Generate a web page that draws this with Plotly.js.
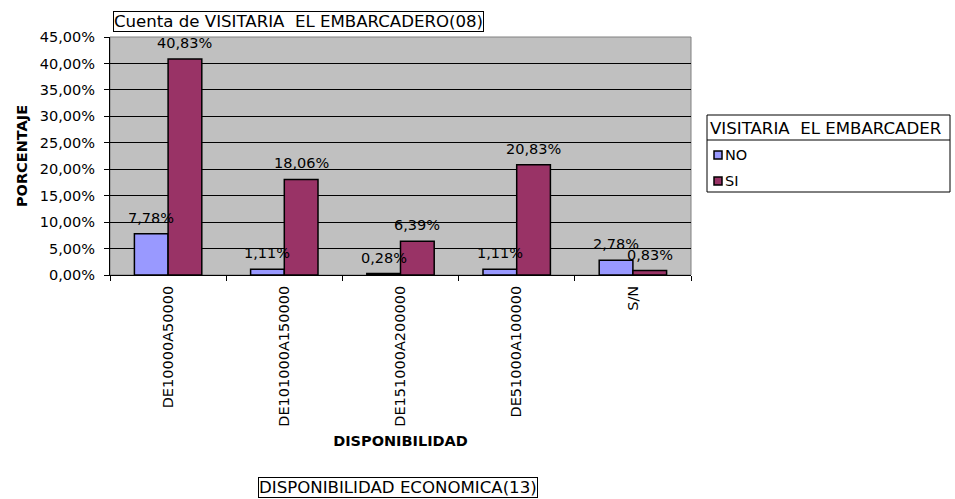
<!DOCTYPE html>
<html>
<head>
<meta charset="utf-8">
<script src="https://cdn.plot.ly/plotly-3.0.1.min.js"></script>
<style>html,body{margin:0;padding:0;background:#fff;}#chart{width:955px;height:499px;}</style>
</head>
<body>
<div id="chart"></div>
<script>
const categories = ['DE10000A50000', 'DE101000A150000', 'DE151000A200000', 'DE51000A100000', 'S/N'];
const seriesNames = ['NO', 'SI'];
const noValues = [7.78, 1.11, 0.28, 1.11, 2.78];
const siValues = [40.83, 18.06, 6.39, 20.83, 0.83];
const yTickValues = [0, 5, 10, 15, 20, 25, 30, 35, 40, 45];
const chartTitle = 'Cuenta de VISITARIA  EL EMBARCADERO(08)';
const legendTitle = 'VISITARIA  EL EMBARCADER';
const pageField = 'DISPONIBILIDAD ECONOMICA(13)';
const xTitle = 'DISPONIBILIDAD';
const yTitle = 'PORCENTAJE';

const FONT = 'DejaVu Sans, Liberation Sans, Arial, sans-serif';
const FS = 14.5;
const FSBOX = 16.6;
const colors = ['#9999FF', '#993366'];
const bargap = 0.42;
const barW = (1 - bargap) / 2;

const fmt = v => v.toFixed(2).replace('.', ',') + '%';

const traces = [noValues, siValues].map((vals, k) => ({
  type: 'bar',
  name: seriesNames[k],
  x: categories,
  y: vals,
  marker: {color: colors[k], line: {color: '#000', width: 1.5}},
  hoverinfo: 'x+y+name',
  showlegend: false
}));

const annotations = [];
[noValues, siValues].forEach((vals, k) => {
  vals.forEach((v, i) => {
    annotations.push({
      xref: 'x', yref: 'y',
      x: i + (k === 0 ? -barW / 2 : barW / 2),
      y: v,
      text: fmt(v),
      showarrow: false,
      xanchor: 'center', yanchor: 'bottom',
      yshift: 6,
      font: {family: FONT, size: FS, color: '#000'}
    });
  });
});

// plot area in pixels
const L = 110, R = 691, T = 37, B = 275;
const px = x => (x - L) / (R - L);
const py = y => (B - y) / (B - T);

annotations.push({
  xref: 'paper', yref: 'paper',
  x: px(113), y: py(11), xanchor: 'left', yanchor: 'top',
  text: chartTitle, showarrow: false,
  bordercolor: '#000', borderwidth: 1, borderpad: 0, bgcolor: '#fff',
  font: {family: FONT, size: FSBOX, color: '#000'}
});
annotations.push({
  xref: 'paper', yref: 'paper',
  x: px(258), y: py(477), xanchor: 'left', yanchor: 'top',
  text: pageField, showarrow: false,
  bordercolor: '#000', borderwidth: 1, borderpad: 0, bgcolor: '#fff',
  font: {family: FONT, size: FSBOX, color: '#000'}
});

const shapes = [
  {type: 'rect', xref: 'paper', yref: 'paper', x0: 0, x1: 1, y0: 0, y1: 1,
   line: {color: '#808080', width: 1}, layer: 'below'},
  // legend box
  {type: 'rect', xref: 'paper', yref: 'paper', x0: px(707), x1: px(950), y0: py(115), y1: py(192),
   line: {color: '#000', width: 1}, fillcolor: '#fff', layer: 'below'},
  {type: 'line', xref: 'paper', yref: 'paper', x0: px(707), x1: px(950), y0: py(140), y1: py(140),
   line: {color: '#000', width: 1}}
];

// legend title and entries
annotations.push({
  xref: 'paper', yref: 'paper', x: px(708), y: py(128), xanchor: 'left', yanchor: 'middle',
  text: legendTitle, showarrow: false, font: {family: FONT, size: FSBOX, color: '#000'}
});
const legendRows = [155, 181];
seriesNames.forEach((name, k) => {
  const yc = legendRows[k];
  shapes.push({type: 'rect', xref: 'paper', yref: 'paper',
    x0: px(714), x1: px(722), y0: py(yc + 4), y1: py(yc - 4),
    fillcolor: colors[k], line: {color: '#000', width: 1.5}});
  annotations.push({
    xref: 'paper', yref: 'paper', x: px(723), y: py(yc), xanchor: 'left', yanchor: 'middle',
    text: name, showarrow: false, font: {family: FONT, size: FS, color: '#000'}
  });
});

const layout = {
  width: 955, height: 499,
  margin: {l: L, r: 955 - R, t: T, b: 499 - B, pad: 0},
  paper_bgcolor: '#fff',
  plot_bgcolor: '#C0C0C0',
  separators: ',.',
  barmode: 'group',
  bargap: bargap,
  bargroupgap: 0,
  font: {family: FONT, size: FS, color: '#000'},
  showlegend: false,
  xaxis: {
    type: 'category',
    range: [-0.5, 4.5],
    tickangle: -90,
    ticks: 'outside', ticklen: 5, tickcolor: '#000',
    tickson: 'boundaries',
    ticklabelstandoff: 4,
    showline: true, linecolor: '#000', linewidth: 1,
    showgrid: false,
    tickfont: {family: FONT, size: FS},
    title: {text: '<b>' + xTitle + '</b>', font: {family: FONT, size: FS}, standoff: 10}
  },
  yaxis: {
    range: [0, 45],
    tickvals: yTickValues,
    ticktext: yTickValues.map(v => v.toFixed(2).replace('.', ',') + '%'),
    ticks: 'outside', ticklen: 5, tickcolor: '#000',
    ticklabelstandoff: 6,
    showline: true, linecolor: '#000', linewidth: 1,
    showgrid: true, gridcolor: '#000', gridwidth: 1,
    zeroline: false,
    tickfont: {family: FONT, size: FS},
    title: {text: '<b>' + yTitle + '</b>', font: {family: FONT, size: FS}, standoff: 8}
  },
  annotations: annotations,
  shapes: shapes
};

Plotly.newPlot('chart', traces, layout, {displayModeBar: false, staticPlot: true});
</script>
</body>
</html>
